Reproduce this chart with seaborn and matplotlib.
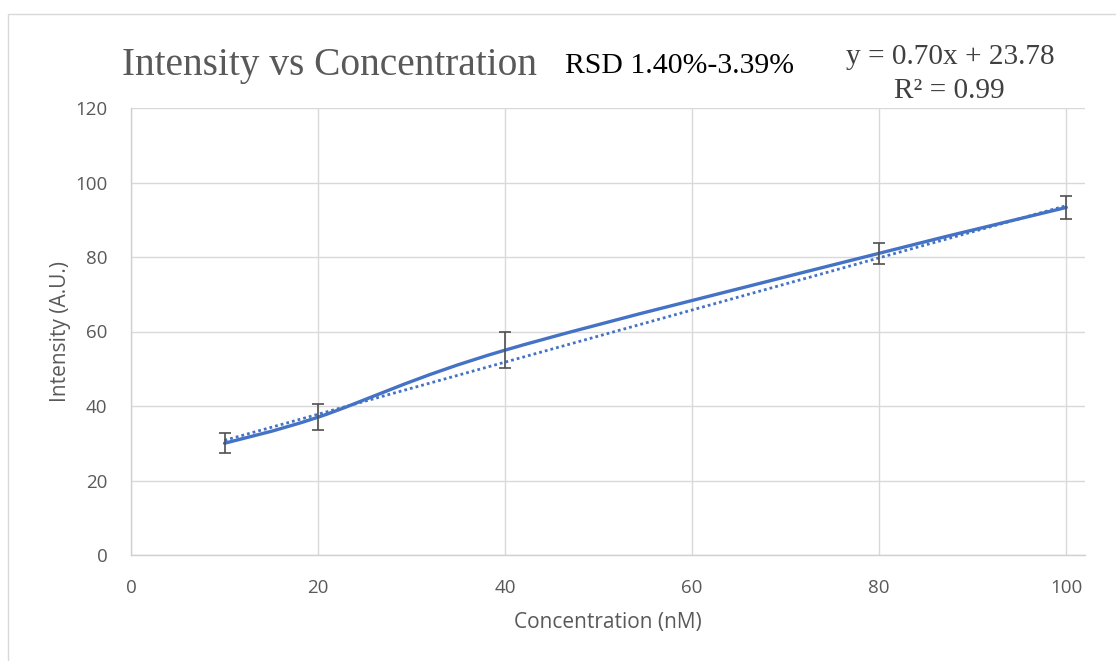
import numpy as np
import matplotlib
matplotlib.use("Agg")
import matplotlib.pyplot as plt
from matplotlib.path import Path
from matplotlib.patches import PathPatch, Rectangle
import seaborn as sns

# Calibration data
concentration = [10, 20, 40, 80, 100]          # nM
intensity = [30.0, 37.0, 55.0, 81.0, 93.3]     # A.U.
intensity_err = [2.7, 3.5, 4.9, 2.8, 3.1]

# Linear trendline
fit_slope = 0.70
fit_intercept = 23.78
fit_r2 = 0.99
rsd_low, rsd_high = "1.40%", "3.39%"

x_ticks = [0, 20, 40, 60, 80, 100]
y_ticks = [0, 20, 40, 60, 80, 100, 120]

W, H = 1116, 661
LINE_BLUE = "#4472C4"
GRID = "#D9D9D9"
TICK_GRAY = "#595959"

sns.set_theme(style="whitegrid")
plt.rcParams["font.family"] = ["Open Sans", "DejaVu Sans"]

fig = plt.figure(figsize=(W / 100, H / 100), dpi=100)
fig.patch.set_facecolor("white")

# chart border
fig.patches.append(Rectangle((8 / W, -0.05), 1.2, 1 - 14 / H + 0.05,
                             transform=fig.transFigure, fill=False,
                             edgecolor="#D9D9D9", linewidth=1.0))

ax = fig.add_axes([131 / W, 1 - 555 / H, (1085 - 131) / W, (555 - 108) / H])
ax.set_facecolor("white")

# smoothed series line (cubic Bezier through the data points)
pts = np.column_stack([concentration, intensity]).astype(float)
ext = np.vstack([pts[0], pts, pts[-1]])
verts = [pts[0]]
codes = [Path.MOVETO]
for i in range(len(pts) - 1):
    p0, p1, p2, p3 = ext[i], ext[i + 1], ext[i + 2], ext[i + 3]
    c1 = p1 + (p2 - p0) / 6.0
    c2 = p2 - (p3 - p1) / 6.0
    verts += [c1, c2, p2]
    codes += [Path.CURVE4] * 3
ax.add_patch(PathPatch(Path(verts, codes), facecolor="none",
                       edgecolor=LINE_BLUE, linewidth=2.4,
                       capstyle="round", zorder=3))

# dotted linear trendline
trend_x = np.array([concentration[0], concentration[-1]], dtype=float)
trend_y = fit_slope * trend_x + fit_intercept
sns.lineplot(x=trend_x, y=trend_y, ax=ax, color=LINE_BLUE, linewidth=2.0,
             linestyle=(0, (1, 1.1)), zorder=4)

# error bars
ax.errorbar(concentration, intensity, yerr=intensity_err, fmt="none",
            ecolor="#505050", elinewidth=1.2, capsize=4.5, capthick=1.2,
            zorder=5)

ax.set_xlim(0, 102)
ax.set_ylim(0, 120)
ax.set_xticks(x_ticks)
ax.set_yticks(y_ticks)
ax.grid(True, color=GRID, linewidth=1.0)
ax.tick_params(axis="both", length=0, labelsize=13.5, labelcolor=TICK_GRAY)
ax.tick_params(axis="x", pad=17)
ax.tick_params(axis="y", pad=17)
for name, sp in ax.spines.items():
    sp.set_visible(name in ("bottom", "left"))
    sp.set_color("#D0D0D0")
    sp.set_linewidth(1.0)

ax.set_xlabel("Concentration (nM)", fontsize=15, color=TICK_GRAY, labelpad=11)
ax.set_ylabel("Intensity (A.U.)", fontsize=15, color=TICK_GRAY, labelpad=3)

serif = ["Liberation Serif", "DejaVu Serif"]
fig.text(122 / W, 1 - 75 / H, "Intensity vs Concentration", family=serif,
         fontsize=28.4, color="#595959", ha="left", va="baseline")
fig.text(565 / W, 1 - 73 / H, f"RSD {rsd_low}-{rsd_high}", family=serif,
         fontsize=21.4, color="black", ha="left", va="baseline")
fig.text(950 / W, 1 - 64 / H, f"y = {fit_slope:.2f}x + {fit_intercept:.2f}",
         family=serif, fontsize=21.1, color="#404040", ha="center",
         va="baseline")
fig.text(949 / W, 1 - 98 / H, f"R² = {fit_r2:.2f}", family=serif,
         fontsize=21.1, color="#404040", ha="center", va="baseline")

fig.savefig("out.png", dpi=100, facecolor="white")
